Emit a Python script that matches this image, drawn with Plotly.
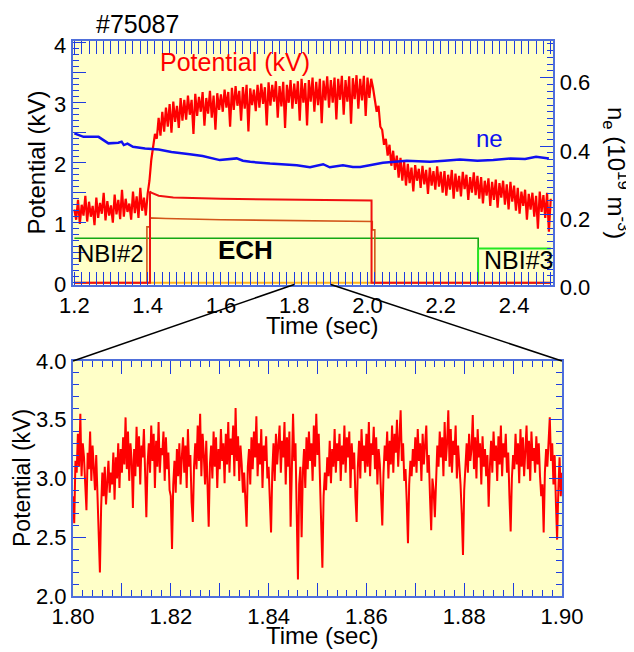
import numpy as np
import plotly.graph_objects as go

# ---------------- data ----------------
shot_label = "#75087"

# plasma potential (kV), top panel, sampled every 5 ms from 1.200 s
pot_t0, pot_dt = 1.2, 0.005
pot_top = [
    1.22, 1.05, 1.38, 0.98, 1.30, 1.12, 1.45, 1.02, 1.35, 1.10,
    1.28, 0.96, 1.42, 1.08, 1.33, 1.15, 1.50, 1.04, 1.36, 1.12,
    1.29, 1.00, 1.47, 1.14, 1.38, 1.06, 1.55, 1.10, 1.40, 1.18,
    1.32, 1.05, 1.52, 1.16, 1.44, 1.08, 1.58, 1.20, 1.42, 1.12, 1.48,
    1.70, 2.05, 2.30, 2.48, 2.40, 2.75, 2.45, 2.85, 2.52, 2.92,
    2.60, 2.98, 2.50, 3.02, 2.68, 2.95, 2.58, 3.08, 2.70, 3.05,
    2.72, 3.12, 2.80, 3.05, 2.48, 3.15, 2.78, 3.10, 2.85, 3.18,
    2.62, 3.08, 2.82, 3.20, 2.75, 3.12, 2.55, 3.16, 2.88, 3.14,
    2.85, 3.22, 2.92, 3.18, 2.60, 3.25, 2.88, 3.28, 2.95, 3.20,
    2.70, 3.26, 2.90, 3.30, 2.52, 3.24, 2.96, 3.22, 2.86, 3.30,
    2.92, 3.32, 2.98, 3.26, 2.62, 3.34, 2.95, 3.30, 3.02, 3.36,
    2.75, 3.28, 2.94, 3.35, 2.58, 3.30, 3.00, 3.38, 2.90, 3.32,
    2.98, 3.36, 2.70, 3.40, 3.00, 3.33, 2.62, 3.38, 3.02, 3.42,
    2.85, 3.35, 2.96, 3.40, 2.66, 3.37, 3.04, 3.44, 2.92, 3.38,
    3.00, 3.42, 2.72, 3.40, 3.05, 3.45, 2.80, 3.38, 3.02, 3.44,
    2.65, 3.41, 3.06, 3.46, 2.90, 3.40, 3.04, 3.45, 2.78, 3.42, 3.08, 3.40,
    3.25, 3.05, 2.85, 2.95, 2.60, 2.55, 2.30, 2.40, 2.12, 2.30,
    1.95, 2.20, 1.88, 2.12, 1.75, 2.08, 1.70, 2.02,
    1.62, 1.98, 1.66, 1.92, 1.52, 1.96, 1.70, 1.90, 1.58, 1.95,
    1.64, 1.88, 1.48, 1.92, 1.62, 1.86, 1.55, 1.94, 1.60, 1.85,
    1.50, 1.86, 1.45, 1.80, 1.55, 1.88, 1.40, 1.82, 1.52, 1.78,
    1.44, 1.85, 1.56, 1.80, 1.38, 1.76, 1.50, 1.84, 1.46, 1.78,
    1.40, 1.76, 1.32, 1.70, 1.45, 1.74, 1.28, 1.68, 1.38, 1.72,
    1.25, 1.66, 1.42, 1.70, 1.30, 1.64, 1.22, 1.68, 1.35, 1.62,
    1.20, 1.58, 1.15, 1.52, 1.28, 1.55, 1.05, 1.48, 1.22, 1.50,
    1.10, 1.45, 0.90, 1.52, 1.18, 1.46, 1.08, 1.50, 0.85, 1.40,
]

# line-averaged density (10^19 m^-3)
ne_time = [1.2, 1.225, 1.266, 1.293, 1.32, 1.329, 1.335, 1.345, 1.36, 1.393,
           1.43, 1.465, 1.515, 1.55, 1.597, 1.62, 1.643, 1.66, 1.68, 1.734,
           1.78, 1.807, 1.843, 1.86, 1.879, 1.897, 1.933, 1.96, 1.98, 2.006,
           2.042, 2.107, 2.17, 2.21, 2.252, 2.30, 2.343, 2.39, 2.43, 2.46, 2.495]
ne_vals = [0.437, 0.427, 0.427, 0.408, 0.410, 0.413, 0.403, 0.407, 0.398, 0.393,
           0.390, 0.383, 0.376, 0.371, 0.359, 0.362, 0.364, 0.357, 0.354, 0.349,
           0.346, 0.344, 0.338, 0.343, 0.347, 0.338, 0.344, 0.339, 0.339, 0.344,
           0.351, 0.357, 0.354, 0.357, 0.361, 0.357, 0.359, 0.364, 0.362, 0.369, 0.364]

# ECH power waveforms (arb., left axis)
ech1_time = [1.2, 1.4065, 1.4065, 1.41, 1.43, 1.47, 1.6, 1.8, 2.011, 2.011, 2.5]
ech1_vals = [0.0, 0.0, 1.52, 1.50, 1.45, 1.42, 1.40, 1.38, 1.37, 0.0, 0.0]
ech2_time = [1.2, 1.398, 1.398, 1.406, 1.406, 1.45, 1.6, 2.0, 2.013, 2.013, 2.02, 2.02, 2.5]
ech2_vals = [0.0, 0.0, 0.93, 0.93, 1.08, 1.07, 1.05, 1.02, 1.02, 0.88, 0.88, 0.0, 0.0]
# NBI waveforms (arb., left axis)
nbi2_time = [1.2, 2.302, 2.302, 2.5]
nbi2_vals = [0.74, 0.74, 0.0, 0.0]
nbi3_time = [2.302, 2.302, 2.5]
nbi3_vals = [0.0, 0.57, 0.57]
base_time = [1.2, 2.5]
base_vals = [0.0, 0.0]

# plasma potential (kV), zoomed panel, sampled every 0.25 ms from 1.800 s
zoom_t0, zoom_dt = 1.80, 0.00025
pot_zoom = [
    2.85, 2.62, 3.15, 3.05, 3.38, 3.10, 3.55, 3.02, 3.30, 3.18, 2.95, 2.73, 3.22, 3.08, 3.40, 2.98, 3.28, 3.12, 2.90, 3.20,
    2.80, 2.45, 2.20, 2.75, 3.05, 2.85, 3.10, 2.78, 2.98, 3.15, 2.88, 3.05, 2.95, 3.22, 2.82, 3.18, 3.00, 3.30, 2.92, 3.25,
    3.05, 3.35, 3.12, 3.52, 3.08, 3.40, 2.98, 3.30, 3.15, 2.75, 3.25, 3.02, 3.44, 3.10, 3.36, 2.95, 3.28, 3.18, 3.42, 3.00,
    2.67, 3.12, 3.30, 3.05, 3.45, 3.15, 3.38, 2.92, 3.32, 3.10, 3.48, 3.05, 3.26, 3.20, 3.40, 2.98, 3.35, 3.08, 3.22, 2.90,
    2.85, 2.40, 2.95, 3.15, 2.88, 3.25, 3.02, 3.30, 2.95, 3.18, 3.35, 3.05, 3.28, 2.92, 3.42, 3.10, 3.20, 2.80, 2.63, 3.10,
    3.30, 3.08, 3.45, 3.15, 3.55, 3.02, 3.38, 3.20, 2.95, 3.32, 2.85, 2.59, 3.12, 3.28, 3.00, 3.40, 3.10, 3.35, 2.92, 3.25,
    3.08, 3.42, 3.15, 3.30, 2.96, 3.38, 3.12, 3.48, 3.05, 3.34, 3.20, 3.45, 3.02, 3.60, 3.15, 3.36, 2.98, 3.28, 3.12, 2.88,
    3.05, 2.80, 2.59, 3.10, 3.25, 2.95, 3.35, 3.08, 3.40, 3.18, 3.53, 3.02, 3.30, 3.12, 3.42, 2.92, 3.28, 3.15, 3.36, 3.00,
    3.10, 2.82, 2.54, 3.05, 3.30, 2.98, 3.38, 3.12, 3.25, 3.45, 3.05, 3.32, 3.18, 3.48, 2.95, 3.35, 3.10, 3.40, 2.59, 3.20,
    3.55, 3.15, 3.30, 2.70, 2.14, 2.95, 3.10, 2.50, 3.05, 3.25, 2.92, 3.35, 3.08, 3.40, 3.15, 3.30, 2.98, 3.45, 3.10, 3.55,
    3.20, 3.38, 2.95, 2.70, 2.24, 2.85, 3.05, 2.90, 3.18, 3.02, 3.32, 2.96, 3.25, 3.10, 3.42, 3.05, 3.30, 3.15, 3.38, 2.98,
    3.28, 3.12, 3.45, 3.05, 3.35, 3.18, 3.40, 2.92, 3.30, 3.08, 3.22, 2.85, 2.63, 3.10, 3.32, 3.00, 3.42, 3.15, 3.28, 3.05,
    3.38, 3.10, 3.48, 3.02, 3.30, 3.20, 3.44, 3.08, 3.35, 2.95, 3.25, 3.12, 2.82, 2.60, 3.05, 3.28, 3.15, 3.40, 3.00, 3.32,
    3.12, 3.45, 3.05, 3.38, 3.22, 3.50, 3.10, 3.35, 3.58, 3.15, 3.30, 2.98, 3.08, 2.80, 2.45, 2.95, 3.15, 3.02, 3.25, 3.10,
    3.35, 3.05, 3.42, 3.15, 3.30, 2.98, 3.38, 3.12, 3.26, 3.45, 3.05, 3.20, 2.85, 2.56, 3.00, 2.90, 2.67, 3.05, 3.28, 3.10,
    3.40, 3.18, 3.35, 3.02, 3.48, 3.15, 3.30, 3.58, 3.10, 3.42, 3.05, 3.32, 3.20, 3.45, 3.00, 3.28, 3.12, 2.95, 2.70, 2.35,
    2.90, 3.12, 3.30, 3.05, 3.38, 3.15, 3.25, 3.54, 3.08, 3.35, 3.00, 3.42, 3.18, 3.30, 2.95, 3.36, 3.10, 3.25, 3.02, 3.20,
    2.76, 3.10, 3.32, 3.05, 3.40, 3.15, 3.28, 2.98, 3.36, 3.12, 3.45, 3.02, 3.30, 3.18, 3.38, 3.05, 3.22, 2.85, 2.55, 3.00,
    3.20, 3.08, 3.38, 3.12, 3.30, 2.96, 3.42, 3.10, 3.35, 3.02, 3.28, 3.45, 3.08, 3.32, 2.98, 3.40, 3.15, 3.26, 3.05, 3.36,
    3.12, 3.30, 3.02, 2.85, 2.95, 2.54, 3.05, 3.25, 3.10, 3.38, 3.52, 3.15, 3.30, 2.95, 3.20, 2.80, 2.48, 2.90, 3.18, 2.85, 3.05,
]

zoom_window = [1.80, 1.90]

# tick values / labels
top_x_ticks = [1.2, 1.3, 1.4, 1.5, 1.6, 1.7, 1.8, 1.9, 2.0, 2.1, 2.2, 2.3, 2.4, 2.5]
top_x_labels = ["1.2", "", "1.4", "", "1.6", "", "1.8", "", "2.0", "", "2.2", "", "2.4", ""]
top_y_ticks = [0, 0.5, 1, 1.5, 2, 2.5, 3, 3.5, 4]
top_y_labels = ["0", "", "1", "", "2", "", "3", "", "4"]
bot_x_ticks = [1.80, 1.81, 1.82, 1.83, 1.84, 1.85, 1.86, 1.87, 1.88, 1.89, 1.90]
bot_x_labels = ["1.80", "", "1.82", "", "1.84", "", "1.86", "", "1.88", "", "1.90"]

# ---------------- layout geometry ----------------
# pixel positions below are measured in page pixels; the page body has an 8 px margin
OFF = 8
PW, PH = 634, 652
W, H = PW - OFF, PH - OFF
FONT = "Liberation Sans, Arial, Helvetica, sans-serif"

def fx(p):
    return (p - OFF) / W

def fy(p):
    return 1 - (p - OFF) / H

top_x_dom = [fx(72.7), fx(553.3)]
top_y_dom = [fy(284.5), fy(41)]
bot_x_dom = [fx(73), fx(562)]
bot_y_dom = [fy(596), fy(361)]
top_x_range = [1.1955, 2.507]
top_y_range = [-0.03, 4.03]
ne_range = [-0.005, 0.7075]
bot_x_range = [1.80, 1.90]
bot_y_range = [2.0, 4.0]

pot_time = pot_t0 + pot_dt * np.arange(len(pot_top))
zoom_time = zoom_t0 + zoom_dt * np.arange(len(pot_zoom))

BG = "#FFFFC8"
AXLINE = "#4F6FDB"
TICK = "#1E3CE0"

fig = go.Figure()

def top_trace(x, y, color, width, yaxis="y"):
    fig.add_trace(go.Scatter(x=x, y=y, mode="lines", xaxis="x", yaxis=yaxis,
                             line=dict(color=color, width=width),
                             hoverinfo="skip", showlegend=False))

top_trace(base_time, base_vals, "#FFB020", 2)
top_trace(nbi2_time, nbi2_vals, "#14A814", 1.6)
top_trace(nbi3_time, nbi3_vals, "#22E822", 1.8)
top_trace(ech2_time, ech2_vals, "#D2561A", 1.6)
top_trace(ech1_time, ech1_vals, "#F01010", 2)
top_trace(pot_time, pot_top, "#FF0000", 2.2)
top_trace(ne_time, ne_vals, "#1010F0", 2.5, yaxis="y2")

fig.add_trace(go.Scatter(x=zoom_time, y=pot_zoom, mode="lines", xaxis="x2", yaxis="y3",
                         line=dict(color="#FF0000", width=2.0),
                         hoverinfo="skip", showlegend=False))

tickfont = dict(family=FONT, size=22, color="black")
common = dict(showline=True, linecolor=AXLINE, linewidth=2, ticks="inside",
              tickcolor=TICK, tickwidth=1, ticklen=13, tickfont=tickfont,
              showgrid=False, zeroline=False, fixedrange=True, automargin=False)

def minor(d, t0):
    return dict(tickmode="linear", dtick=d, tick0=t0, ticklen=6, tickcolor=TICK, ticks="inside")

fig.update_layout(
    width=W, height=H, autosize=False,
    margin=dict(l=0, r=0, t=0, b=0, pad=0, autoexpand=False),
    paper_bgcolor="white", plot_bgcolor=BG,
    showlegend=False,
    xaxis=dict(domain=top_x_dom, range=top_x_range, anchor="y", mirror="allticks",
               tickmode="array", tickvals=top_x_ticks, ticktext=top_x_labels,
               minor=minor(0.02, 1.2), **common),
    yaxis=dict(domain=top_y_dom, range=top_y_range, anchor="x",
               tickmode="array", tickvals=top_y_ticks, ticktext=top_y_labels,
               ticklabelshift=2, minor=minor(0.1, 0), **common),
    yaxis2=dict(range=ne_range, overlaying="y", side="right", anchor="x",
                tickmode="linear", tick0=0, dtick=0.2, tickformat=".1f", ticklabelshift=5,
                minor=minor(0.02, 0), **common),
    xaxis2=dict(domain=bot_x_dom, range=bot_x_range, anchor="y3", mirror="allticks",
                tickmode="array", tickvals=bot_x_ticks, ticktext=bot_x_labels,
                minor=minor(0.002, 1.80), **common),
    yaxis3=dict(domain=bot_y_dom, range=bot_y_range, anchor="x2", mirror="allticks",
                tickmode="linear", tick0=2.0, dtick=0.5, tickformat=".1f",
                minor=minor(0.1, 2.0), **common),
)

def ann(text, xp, yp, size, color="black", angle=0, bold=False):
    fig.add_annotation(
        text=f"<b>{text}</b>" if bold else text,
        x=fx(xp), y=fy(yp), xref="paper", yref="paper",
        xanchor="center", yanchor="middle", showarrow=False, textangle=angle,
        font=dict(family=FONT, size=size, color=color))

ann(shot_label, 137.5, 24, 25)
ann("Potential (kV)", 234.5, 62, 25, color="#FF0000")
ann("ne", 489.5, 138, 24, color="#1010F0")
ann("NBI#2", 110.5, 253, 24)
ann("ECH", 245, 250, 26, bold=True)
ann("NBI#3", 518.5, 260, 25)
ann("Potential (kV)", 36, 162.5, 24, angle=-90)
ann("Potential (kV)", 22, 478, 23, angle=-90)
ann("Time (sec)", 322, 325, 24)
ann("Time (sec)", 322, 635, 24)
ann("n\u0304<sub>e</sub> (10<sup>19</sup> m<sup>-3</sup>)", 616, 173, 24, angle=90)

# connector lines from the zoom window on the top axis to the bottom panel corners
def top_x_to_paper(t):
    f = (t - top_x_range[0]) / (top_x_range[1] - top_x_range[0])
    return top_x_dom[0] + f * (top_x_dom[1] - top_x_dom[0])

for t_top, x_bot in [(zoom_window[0], bot_x_dom[0]), (zoom_window[1], bot_x_dom[1])]:
    fig.add_shape(type="line", xref="paper", yref="paper",
                  x0=top_x_to_paper(t_top), y0=top_y_dom[0], x1=x_bot, y1=bot_y_dom[1],
                  line=dict(color="black", width=1.5), layer="above")

fig.write_html("out.html")
